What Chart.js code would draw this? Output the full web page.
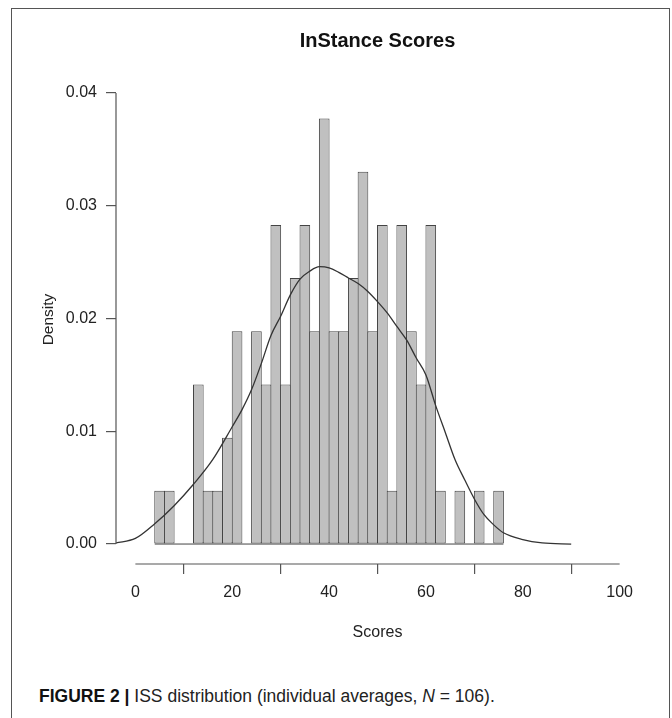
<!DOCTYPE html>
<html>
<head>
<meta charset="utf-8">
<script src="https://cdn.jsdelivr.net/npm/chart.js@4/dist/chart.umd.min.js"></script>
<style>
  body { margin: 0; background: #fff; }
  #wrap { position: relative; width: 672px; height: 718px; overflow: hidden; background: #fff; }
  #frame { position: absolute; left: 11px; top: 8px; width: 657px; height: 730px;
           border-left: 1.5px solid #555; border-top: 1.5px solid #555; border-right: 1.5px solid #555; }
  #chart { position: absolute; left: 0; top: 0; }
  #caption { position: absolute; left: 39px; top: 686px; font-family: "Liberation Sans", Arial, sans-serif;
             font-size: 17.5px; color: #222; white-space: nowrap; }
  #caption b { color: #111; }
</style>
</head>
<body>
<div id="wrap">
  <div id="frame"></div>
  <canvas id="chart" width="672" height="660"></canvas>
  <div id="caption"><b>FIGURE 2 |</b> ISS distribution (individual averages, <i>N</i> = 106).</div>
</div>
<script>
// histogram bins (left edges), width 2, and counts per bin
const binStarts = [4, 6, 8, 10, 12, 14, 16, 18, 20, 22, 24, 26, 28, 30, 32, 34, 36, 38,
                   40, 42, 44, 46, 48, 50, 52, 54, 56, 58, 60, 62, 64, 66, 68, 70, 72, 74];
const binCounts = [1, 1, 0, 0, 3, 1, 1, 2, 4, 0, 4, 3, 6, 3, 5, 6, 4, 8,
                   4, 4, 5, 7, 4, 6, 1, 6, 4, 3, 6, 1, 0, 1, 0, 1, 0, 1];
const binWidth = 2;
const sampleSize = 106;

// density curve
const curveX = [-4, 0, 4, 8, 12, 16, 20, 22, 24, 26, 28, 30, 32, 34, 36, 38, 40, 42, 44,
                46, 48, 50, 52, 54, 56, 58, 60, 62, 64, 66, 68, 70, 72, 74, 76, 80, 84, 90];
const curveY = [0.0001, 0.0005, 0.0018, 0.0034, 0.0053, 0.0075, 0.0104, 0.0119, 0.0137, 0.0160,
                0.0185, 0.0202, 0.0221, 0.0235, 0.0242, 0.0246, 0.0245, 0.0241, 0.0236, 0.0231,
                0.0224, 0.0215, 0.0205, 0.0193, 0.0181, 0.0165, 0.0150, 0.0123, 0.0099, 0.0075,
                0.0057, 0.0040, 0.0026, 0.0017, 0.0010, 0.0004, 0.0001, 0.0];

const xTicks = [0, 20, 40, 60, 80, 100];
const yTicks = [0, 0.01, 0.02, 0.03, 0.04];

const axisColor = '#555';
const textColor = '#222';
const fontFamily = '"Liberation Sans", Arial, sans-serif';

const barData = binStarts.map((s, i) => ({ x: s + binWidth / 2, y: binCounts[i] / (sampleSize * binWidth) }));
const curveData = curveX.map((x, i) => ({ x: x, y: curveY[i] }));
const baseData = [
    { x: binStarts[0], y: 0 },
    { x: binStarts[binStarts.length - 1] + binWidth, y: 0 }
];

// R style axis lines that only span the first to last tick
const axisLines = {
    id: 'axisLines',
    afterDraw(chart) {
        const { ctx, chartArea, scales: { x, y } } = chart;
        ctx.save();
        ctx.strokeStyle = axisColor;
        ctx.lineWidth = 1.2;
        ctx.beginPath();
        ctx.moveTo(chartArea.left, y.getPixelForValue(yTicks[0]));
        ctx.lineTo(chartArea.left, y.getPixelForValue(yTicks[yTicks.length - 1]));
        ctx.moveTo(x.getPixelForValue(xTicks[0]), chartArea.bottom);
        ctx.lineTo(x.getPixelForValue(xTicks[xTicks.length - 1]), chartArea.bottom);
        ctx.stroke();
        ctx.restore();
    }
};

new Chart(document.getElementById('chart'), {
    type: 'bar',
    data: {
        datasets: [
            {
                type: 'line',
                data: curveData,
                borderColor: '#333',
                borderWidth: 1.3,
                pointRadius: 0,
                cubicInterpolationMode: 'monotone',
                fill: false,
                order: 0
            },
            {
                type: 'line',
                data: baseData,
                borderColor: '#444',
                borderWidth: 1,
                pointRadius: 0,
                fill: false,
                order: 1
            },
            {
                type: 'bar',
                data: barData,
                backgroundColor: '#c0c0c0',
                borderColor: '#444',
                borderWidth: 1,
                borderSkipped: false,
                barPercentage: 1.1,
                categoryPercentage: 1,
                grouped: false,
                order: 2
            }
        ]
    },
    options: {
        responsive: false,
        animation: false,
        devicePixelRatio: 1,
        layout: { padding: { left: 0, right: 33, top: 0, bottom: 0 } },
        plugins: {
            legend: { display: false },
            tooltip: { enabled: false },
            title: {
                display: true,
                fullSize: false,
                text: 'InStance Scores',
                color: '#111',
                font: { family: fontFamily, size: 20, weight: 'bold' },
                padding: { top: 29, bottom: 22 }
            }
        },
        scales: {
            x: {
                type: 'linear',
                min: -4,
                max: 104,
                offset: false,
                afterBuildTicks: (scale) => { scale.ticks = xTicks.map(v => ({ value: v })); },
                afterFit: (scale) => { scale.height = 96; },
                border: { display: false },
                grid: { display: true, drawOnChartArea: false, drawTicks: true, tickLength: 10, color: axisColor, lineWidth: 1.2 },
                ticks: { color: textColor, font: { family: fontFamily, size: 16 }, padding: 9, maxRotation: 0 },
                title: {
                    display: true,
                    text: 'Scores',
                    color: textColor,
                    font: { family: fontFamily, size: 16 },
                    padding: { top: 0, bottom: 18 }
                }
            },
            y: {
                type: 'linear',
                min: -0.00177,
                max: 0.0416,
                afterBuildTicks: (scale) => { scale.ticks = yTicks.map(v => ({ value: v })); },
                afterFit: (scale) => { scale.width = 116; },
                border: { display: false },
                grid: { display: true, drawOnChartArea: false, drawTicks: true, tickLength: 10, color: axisColor, lineWidth: 1.2 },
                ticks: {
                    color: textColor,
                    font: { family: fontFamily, size: 16 },
                    padding: 9,
                    callback: (v) => v.toFixed(2)
                },
                title: {
                    display: true,
                    text: 'Density',
                    color: textColor,
                    font: { family: fontFamily, size: 15.5 },
                    padding: { top: 39, bottom: 0 }
                }
            }
        }
    },
    plugins: [axisLines]
});
</script>
</body>
</html>
